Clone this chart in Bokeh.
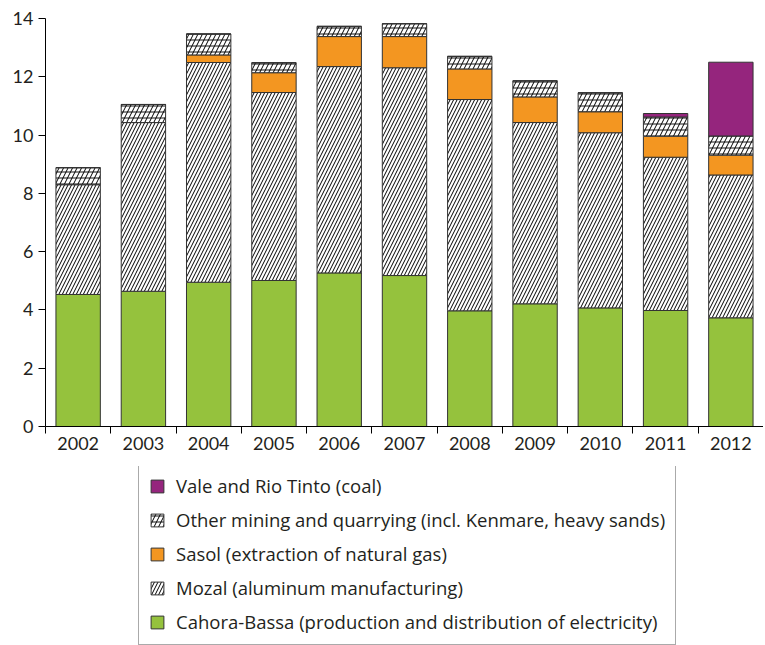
import numpy as np
from bokeh.plotting import figure
from bokeh.layouts import column
from bokeh.models import Range1d, FixedTicker, Legend, LegendItem
from bokeh.embed import file_html
from bokeh.resources import INLINE

years = ["2002", "2003", "2004", "2005", "2006", "2007", "2008", "2009", "2010", "2011", "2012"]
cahora = [4.53, 4.64, 4.95, 5.01, 5.27, 5.18, 3.97, 4.21, 4.07, 3.98, 3.73]
mozal = [3.77, 5.79, 7.54, 6.45, 7.08, 7.13, 7.25, 6.22, 6.01, 5.26, 4.90]
sasol = [0.0, 0.0, 0.26, 0.68, 1.03, 1.07, 1.05, 0.88, 0.72, 0.72, 0.68]
other = [0.58, 0.62, 0.72, 0.34, 0.35, 0.44, 0.43, 0.55, 0.65, 0.66, 0.66]
vale = [0.0, 0.0, 0.0, 0.0, 0.0, 0.0, 0.0, 0.0, 0.0, 0.12, 2.53]
y_ticks = [0, 2, 4, 6, 8, 10, 12, 14]

labels = {
    "vale": "Vale and Rio Tinto (coal)",
    "other": "Other mining and quarrying (incl. Kenmare, heavy sands)",
    "sasol": "Sasol (extraction of natural gas)",
    "mozal": "Mozal (aluminum manufacturing)",
    "cahora": "Cahora-Bassa (production and distribution of electricity)",
}

GREEN = "#95C23D"
ORANGE = "#F39621"
PURPLE = "#95257D"
EDGE = "#333333"
FONT = "Lato"
LFONT = "Open Sans"
TXT = "#231F20"

STYLES = {
    "cahora": [dict(fill_color=GREEN, line_color=EDGE, line_width=1)],
    "mozal": [dict(fill_color="white", line_color=EDGE, line_width=1,
                   hatch_pattern="/", hatch_color="black", hatch_scale=7, hatch_weight=1)],
    "sasol": [dict(fill_color=ORANGE, line_color=EDGE, line_width=1)],
    "other": [dict(fill_color="white", line_color=None,
                   hatch_pattern="-", hatch_color="#8a8a8a", hatch_scale=6, hatch_weight=2),
              dict(fill_color=None, line_color=EDGE, line_width=1,
                   hatch_pattern="/", hatch_color="black", hatch_scale=9, hatch_weight=1)],
    "vale": [dict(fill_color=PURPLE, line_color=EDGE, line_width=1)],
}
order = ["cahora", "mozal", "sasol", "other", "vale"]

x = np.arange(len(years))
stack = np.vstack([cahora, mozal, sasol, other, vale])
tops = np.cumsum(stack, axis=0)
bottoms = tops - stack

p = figure(width=763, height=466, output_backend="svg", toolbar_location=None,
           min_border_left=45, min_border_top=18, min_border_right=0, min_border_bottom=40)
p.x_range = Range1d(-0.5, len(years) - 0.5)
p.y_range = Range1d(0, 14)
p.outline_line_color = None
p.xgrid.grid_line_color = None
p.ygrid.grid_line_color = None

W = 0.68
for k, key in enumerate(order):
    for st in STYLES[key]:
        p.vbar(x=x, bottom=bottoms[k], top=tops[k], width=W, **st)

# axes
p.yaxis.ticker = FixedTicker(ticks=y_ticks)
p.yaxis.minor_tick_line_color = None
p.yaxis.major_tick_in = 0
p.yaxis.major_tick_out = 7
p.yaxis.axis_line_color = "black"
p.yaxis.major_tick_line_color = "black"
p.yaxis.major_label_text_font = FONT
p.yaxis.major_label_text_font_size = "18px"
p.yaxis.major_label_text_color = TXT
p.yaxis.major_label_standoff = 5

p.xaxis.ticker = FixedTicker(ticks=list(x), minor_ticks=[i - 0.5 for i in range(len(years) + 1)])
p.xaxis.major_label_overrides = {int(i): years[i] for i in range(len(years))}
p.xaxis.major_tick_line_color = None
p.xaxis.major_tick_in = 0
p.xaxis.major_tick_out = 7
p.xaxis.minor_tick_line_color = "black"
p.xaxis.minor_tick_in = 0
p.xaxis.minor_tick_out = 7
p.xaxis.axis_line_color = "black"
p.xaxis.major_label_text_font = FONT
p.xaxis.major_label_text_font_size = "18px"
p.xaxis.major_label_text_color = TXT
p.xaxis.major_label_standoff = 3

# legend figure (swatch renderers sit outside its visible range)
q = figure(width=763, height=179, output_backend="svg", toolbar_location=None,
           x_axis_location=None, y_axis_location=None,
           min_border_left=0, min_border_top=0, min_border_right=0, min_border_bottom=0)
q.x_range = Range1d(0, 1)
q.y_range = Range1d(0, 1)
q.outline_line_color = None
q.xgrid.grid_line_color = None
q.ygrid.grid_line_color = None

leg_renderers = {}
for key in order:
    leg_renderers[key] = [q.vbar(x=[5], top=[1], width=0.5, **st) for st in STYLES[key]]

legend = Legend(items=[LegendItem(label=labels[key], renderers=leg_renderers[key])
                       for key in ["vale", "other", "sasol", "mozal", "cahora"]],
                location=(93, 0), orientation="vertical")
legend.label_text_font = LFONT
legend.label_text_font_size = "18.5px"
legend.label_text_color = TXT
legend.glyph_width = 16
legend.glyph_height = 16
legend.label_height = 22
legend.spacing = 9
legend.padding = 10
legend.margin = 0
legend.label_standoff = 11
legend.border_line_color = "#555555"
legend.border_line_width = 1
legend.background_fill_alpha = 1
q.add_layout(legend, "center")

open("out.html", "w").write(file_html(column(p, q, spacing=0), INLINE))
